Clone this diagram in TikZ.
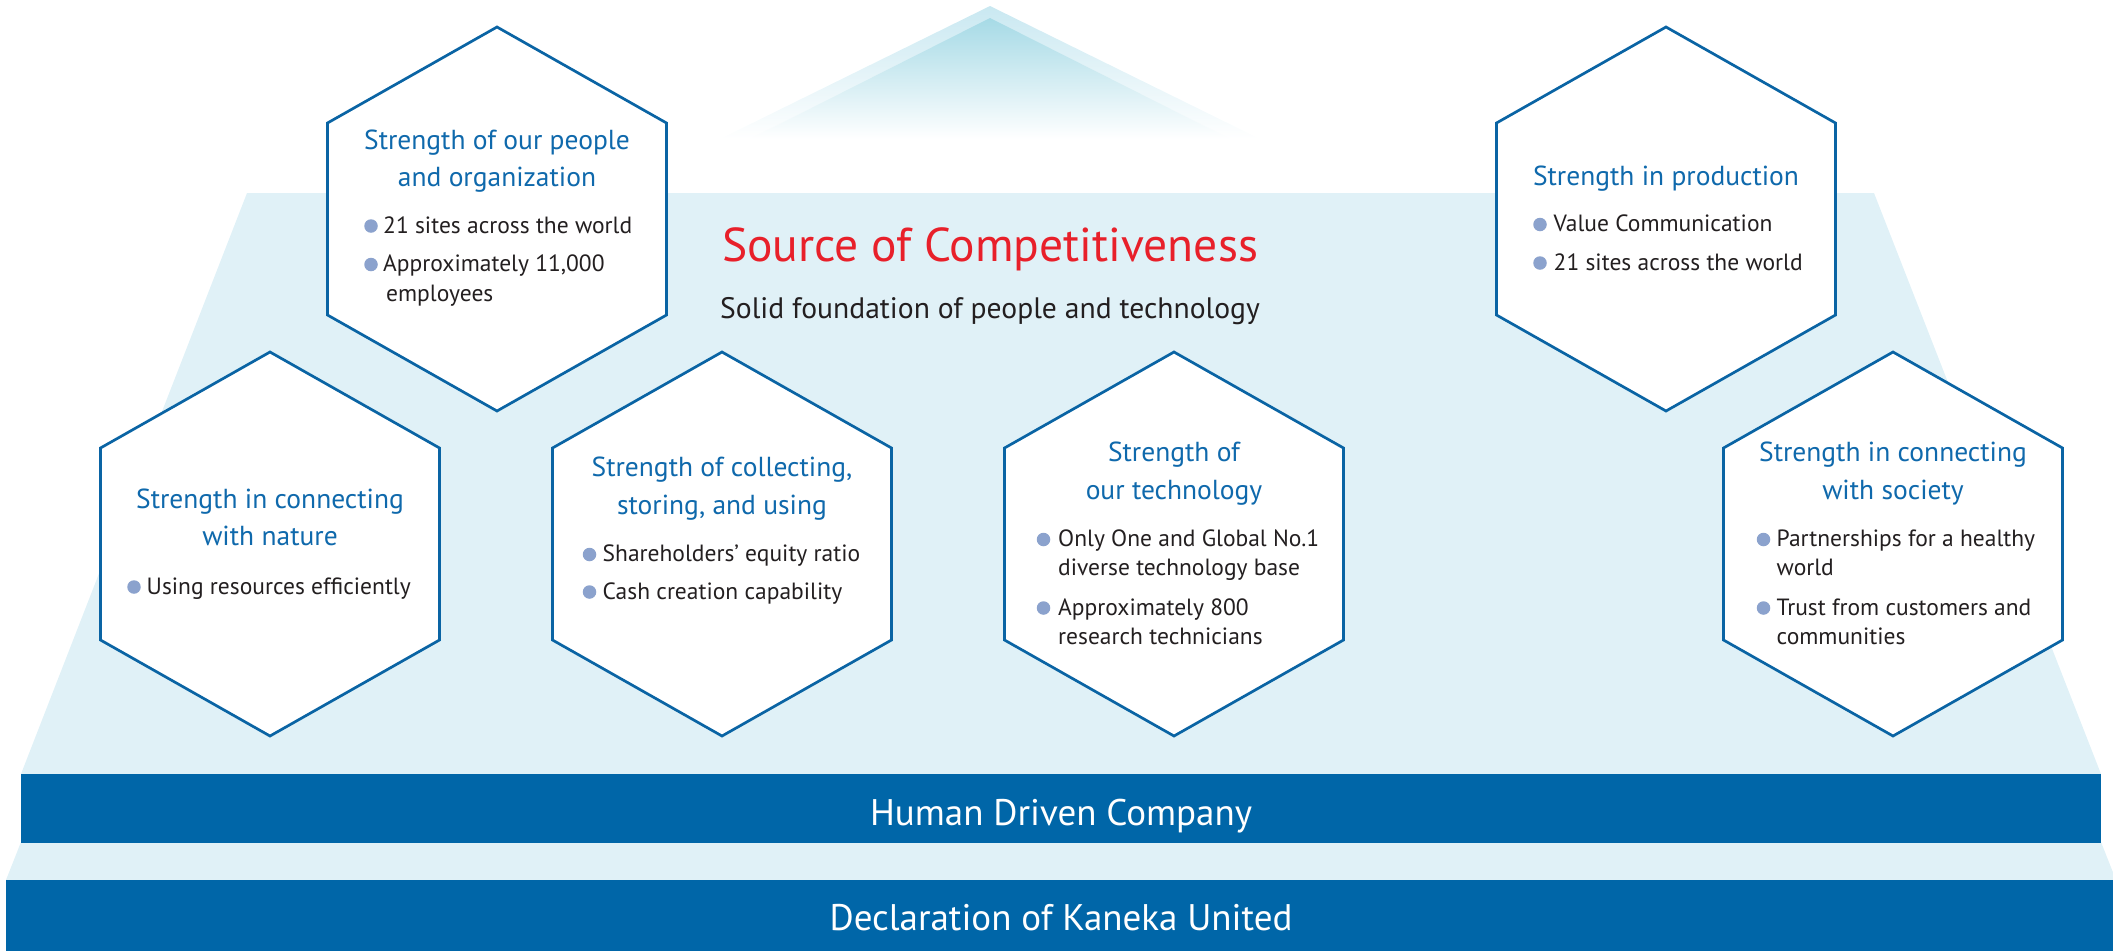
\documentclass[tikz,border=0pt]{standalone}
\usepackage{fontspec}
\setmainfont{PT Sans}
\usetikzlibrary{calc}
\definecolor{lightbg}{HTML}{E0F1F7}
\definecolor{barblue}{HTML}{0066A8}
\definecolor{hexblue}{HTML}{0A64A4}
\definecolor{titleblue}{HTML}{0F69AC}
\definecolor{redtitle}{HTML}{E8202A}
\definecolor{textdark}{HTML}{231F20}
\definecolor{dotblue}{HTML}{8BA2CD}
\definecolor{triout}{HTML}{C9E8F1}
\definecolor{triin}{HTML}{A6DAE6}
\tikzset{
  hexline/.style={draw=hexblue, line width=2.7pt, fill=white, line join=miter},
  htitle/.style={anchor=base, inner sep=0pt, text=titleblue, font=\fontsize{27.5}{33}\selectfont},
  btext/.style={anchor=base west, inner sep=0pt, text=textdark, font=\fontsize{23.5}{28}\selectfont},
  bdot/.style={circle, fill=dotblue, inner sep=0pt, minimum size=13.5pt},
  bartext/.style={anchor=base, inner sep=0pt, text=white, font=\fontsize{37}{42}\selectfont},
}
\newcommand\hexat[3]{%
  \coordinate (#1) at (#2,#3);
  \draw[hexline] ([shift={(0,-192)}]#1) -- ++(169.5,96) -- ++(0,192) -- ++(-169.5,96) -- ++(-169.5,-96) -- ++(0,-192) -- cycle;
}
\begin{document}
\begin{tikzpicture}[x=1pt,y=-1pt]
\useasboundingbox (0,0) rectangle (2113,951);
% top triangle glow
\shade[top color=triout, bottom color=white] (990,6) -- (1260,139) -- (720,139) -- cycle;
\shade[top color=triin, bottom color=white] (990,18) -- (1230,139) -- (750,139) -- cycle;
% background trapezoid and bands
\fill[lightbg] (247,193) -- (1874,193) -- (2101,774) -- (21,774) -- cycle;
\fill[lightbg] (21,842) -- (2101,842) -- (2116,880) -- (6,880) -- cycle;
\fill[barblue] (21,774) rectangle (2101,843);
\fill[barblue] (6,880) rectangle (2113,951);
\node[bartext] (hdc) at (1061,825) {Human Driven Company};
\node[bartext] (dku) at (1061,930.5) {Declaration of Kaneka United};
% central text
\node[anchor=base, inner sep=0pt, text=redtitle, font=\fontsize{47.5}{52}\selectfont] (soc) at (990,261) {Source of Competitiveness};
\node[anchor=base, inner sep=0pt, text=textdark, font=\fontsize{29.6}{34}\selectfont] (sub) at (990,318) {Solid foundation of people and technology};
% hexagons
\hexat{hA}{497}{219}
\hexat{hB}{1666}{219}
\hexat{hC}{270}{544}
\hexat{hD}{722}{544}
\hexat{hE}{1174}{544}
\hexat{hF}{1893}{544}
% hex A: people
\node[htitle] (a1) at (497,149) {Strength of our people};
\node[htitle] (a2) at (497,186) {and organization};
\node[bdot] (ad1) at (371,226) {};
\node[btext] (ab1) at (383,233) {21 sites across the world};
\node[bdot] (ad2) at (371,264.5) {};
\node[btext] (ab2) at (383,271.5) {Approximately 11,000};
\node[btext] (ab3) at (386,301) {employees};
% hex B: production
\node[htitle] (b1) at (1666,185) {Strength in production};
\node[bdot] (bd1) at (1540,224.5) {};
\node[btext] (bb1) at (1553.5,231.5) {Value Communication};
\node[bdot] (bd2) at (1540,263) {};
\node[btext] (bb2) at (1553.5,270) {21 sites across the world};
% hex C: nature
\node[htitle] (c1) at (270,508) {Strength in connecting};
\node[htitle] (c2) at (270,545.5) {with nature};
\node[bdot] (cd1) at (134,587) {};
\node[btext] (cb1) at (146.5,594) {Using resources efficiently};
% hex D: collecting
\node[htitle] (d1) at (722,476.5) {Strength of collecting,};
\node[htitle] (d2) at (722,514) {storing, and using};
\node[bdot] (dd1) at (589.5,554.5) {};
\node[btext] (db1) at (602.5,561.5) {Shareholders’ equity ratio};
\node[bdot] (dd2) at (589.5,592) {};
\node[btext] (db2) at (602.5,599) {Cash creation capability};
% hex E: technology
\node[htitle] (e1) at (1174,461.5) {Strength of};
\node[htitle] (e2) at (1174,499) {our technology};
\node[bdot] (ed1) at (1043.5,539.5) {};
\node[btext] (eb1) at (1058,546.5) {Only One and Global No.1};
\node[btext] (eb2) at (1058,575.5) {diverse technology base};
\node[bdot] (ed2) at (1043.5,608) {};
\node[btext] (eb3) at (1058,615) {Approximately 800};
\node[btext] (eb4) at (1058,644) {research technicians};
% hex F: society
\node[htitle] (f1) at (1893,461.5) {Strength in connecting};
\node[htitle] (f2) at (1893,499) {with society};
\node[bdot] (fd1) at (1763.5,539.5) {};
\node[btext] (fb1) at (1776.5,546.5) {Partnerships for a healthy};
\node[btext] (fb2) at (1776.5,575.5) {world};
\node[bdot] (fd2) at (1763.5,608) {};
\node[btext] (fb3) at (1776.5,615) {Trust from customers and};
\node[btext] (fb4) at (1776.5,644) {communities};
\end{tikzpicture}
\end{document}
